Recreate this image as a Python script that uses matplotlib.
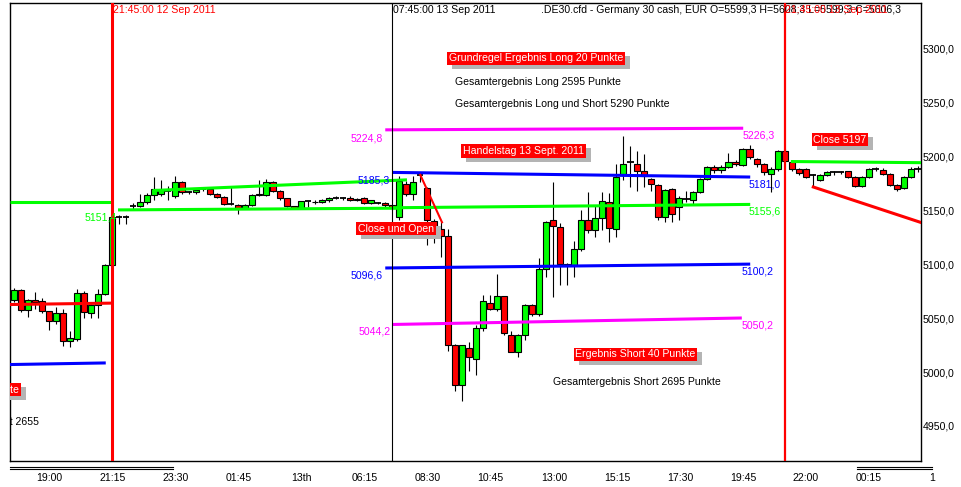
import matplotlib
matplotlib.use("Agg")
import matplotlib.pyplot as plt
import numpy as np
from matplotlib.ticker import FuncFormatter

plt.rcParams['font.family'] = ['Liberation Sans', 'DejaVu Sans']

# 15 minute bars of .DE30.cfd, first bar 18:15 on 12 Sep 2011
opens = [
    5066.7, 5076.6, 5057.4, 5067.3, 5066.0, 5056.5, 5047.2, 5055.3, 5028.7, 5030.5,
    5073.8, 5054.9, 5062.0, 5072.9, 5099.0, 5144.0, 5144.0, 5154.5, 5154.3, 5157.7,
    5164.5, 5165.0, 5167.6, 5163.0, 5176.2, 5166.7, 5166.7, 5170.0, 5170.0, 5165.5,
    5162.9, 5156.2, 5155.3, 5152.5, 5155.3, 5164.5, 5164.5, 5176.2, 5168.0, 5161.8,
    5153.7, 5151.9, 5158.6, 5157.5, 5158.0, 5159.3, 5162.0, 5161.5, 5162.0, 5160.0,
    5161.8, 5156.8, 5157.0, 5157.0, 5154.6, 5143.8, 5175.0, 5165.5, 5183.0, 5171.0,
    5140.0, 5133.0, 5126.0, 5025.0, 4988.0, 5022.5, 5011.8, 5040.5, 5064.5, 5059.0,
    5070.6, 5034.0, 5018.8, 5034.0, 5062.0, 5053.7, 5095.4, 5140.7, 5135.0, 5100.0,
    5099.0, 5114.5, 5141.4, 5131.5, 5142.9, 5157.7, 5133.0, 5184.0, 5194.7, 5193.0,
    5187.0, 5179.4, 5173.8, 5143.8, 5170.0, 5153.0, 5160.8, 5159.3, 5167.0, 5179.4,
    5190.7, 5187.7, 5190.7, 5195.0, 5192.3, 5207.1, 5197.9, 5193.2, 5184.0, 5188.6,
    5205.6, 5194.7, 5188.6, 5188.6, 5183.3, 5178.4, 5183.3, 5185.5, 5185.5, 5186.4,
    5181.5, 5173.0, 5181.5, 5188.6, 5187.7, 5184.0, 5174.0, 5171.0, 5181.5, 5188.6,
]
highs = [
    5078.0, 5077.0, 5068.0, 5074.4, 5068.8, 5057.0, 5060.5, 5058.6, 5038.3, 5077.5,
    5075.3, 5063.0, 5077.5, 5100.0, 5145.4, 5145.4, 5145.4, 5156.8, 5165.5, 5166.0,
    5180.8, 5178.0, 5173.0, 5182.4, 5177.0, 5168.0, 5171.0, 5171.0, 5171.0, 5166.0,
    5163.0, 5171.6, 5156.0, 5156.0, 5165.0, 5178.0, 5179.4, 5177.0, 5169.0, 5162.0,
    5154.0, 5159.0, 5159.0, 5159.5, 5160.5, 5162.5, 5163.5, 5162.5, 5163.0, 5161.5,
    5162.5, 5160.0, 5158.0, 5158.0, 5155.0, 5182.0, 5177.0, 5182.4, 5185.0, 5172.0,
    5142.0, 5139.0, 5133.0, 5026.0, 5025.5, 5028.0, 5043.8, 5072.0, 5072.0, 5090.7,
    5071.0, 5038.0, 5035.0, 5063.0, 5063.0, 5106.2, 5140.5, 5176.2, 5138.0, 5101.0,
    5122.0, 5150.0, 5167.0, 5154.0, 5167.0, 5166.0, 5193.2, 5219.4, 5210.0, 5205.6,
    5202.5, 5180.0, 5175.0, 5170.0, 5171.0, 5163.0, 5168.5, 5168.0, 5180.0, 5191.0,
    5192.0, 5192.0, 5203.4, 5197.0, 5208.0, 5211.0, 5199.0, 5194.0, 5190.0, 5206.0,
    5207.0, 5195.5, 5189.0, 5189.0, 5184.0, 5184.0, 5186.5, 5187.0, 5186.5, 5187.0,
    5182.0, 5182.0, 5189.0, 5190.0, 5189.0, 5185.0, 5175.0, 5182.0, 5190.7, 5191.0,
]
lows = [
    5065.0, 5055.8, 5051.2, 5059.0, 5055.0, 5039.5, 5045.0, 5024.0, 5023.4, 5028.7,
    5050.0, 5050.0, 5050.0, 5072.0, 5098.0, 5137.0, 5137.0, 5151.6, 5153.0, 5156.0,
    5160.0, 5163.0, 5160.0, 5162.0, 5165.0, 5165.0, 5165.0, 5168.0, 5164.0, 5162.0,
    5155.0, 5155.0, 5147.0, 5151.0, 5154.0, 5163.0, 5163.0, 5167.0, 5160.0, 5153.0,
    5151.0, 5151.0, 5153.0, 5156.0, 5157.0, 5158.0, 5161.0, 5160.0, 5159.0, 5159.0,
    5156.0, 5156.0, 5156.0, 5153.0, 5150.0, 5140.7, 5163.0, 5160.0, 5176.0, 5117.6,
    5120.0, 5107.0, 5020.0, 4982.7, 4973.0, 5001.0, 4997.0, 5038.0, 5058.0, 5057.0,
    5034.0, 5018.8, 5014.0, 5030.0, 5052.0, 5052.0, 5088.0, 5069.7, 5080.6, 5081.0,
    5088.0, 5112.0, 5129.0, 5125.0, 5131.5, 5120.7, 5125.0, 5178.0, 5171.6, 5168.5,
    5171.6, 5168.5, 5140.7, 5139.2, 5139.0, 5140.7, 5157.7, 5155.0, 5166.0, 5178.0,
    5185.0, 5185.0, 5189.0, 5191.0, 5191.0, 5198.0, 5190.0, 5183.0, 5167.0, 5187.0,
    5195.0, 5187.0, 5183.0, 5180.0, 5172.2, 5177.0, 5182.0, 5183.0, 5184.0, 5180.0,
    5172.0, 5172.0, 5180.0, 5187.0, 5183.0, 5173.0, 5168.0, 5170.0, 5180.0, 5186.0,
]
closes = [
    5076.6, 5057.4, 5067.3, 5065.0, 5056.5, 5047.2, 5055.3, 5028.7, 5031.2, 5073.8,
    5055.8, 5062.4, 5072.9, 5099.0, 5143.8, 5144.0, 5144.0, 5154.5, 5157.7, 5164.5,
    5170.0, 5169.0, 5167.6, 5176.2, 5167.0, 5166.7, 5169.0, 5170.0, 5165.5, 5162.9,
    5156.2, 5156.2, 5152.5, 5155.3, 5164.5, 5165.5, 5176.2, 5168.0, 5161.8, 5153.7,
    5151.9, 5158.6, 5158.6, 5158.3, 5159.7, 5161.8, 5162.0, 5161.5, 5160.0, 5161.0,
    5156.8, 5159.3, 5157.0, 5154.6, 5152.4, 5177.5, 5165.5, 5176.2, 5183.0, 5140.7,
    5133.0, 5126.0, 5025.0, 4988.0, 5025.0, 5014.2, 5040.5, 5065.7, 5059.0, 5070.6,
    5036.4, 5018.8, 5034.0, 5062.0, 5053.7, 5095.4, 5139.2, 5136.0, 5100.0, 5099.0,
    5114.5, 5140.7, 5131.5, 5142.9, 5158.6, 5134.0, 5180.8, 5193.0, 5194.7, 5186.4,
    5182.4, 5174.7, 5143.8, 5169.2, 5147.0, 5161.8, 5160.8, 5167.0, 5179.4, 5190.7,
    5187.7, 5190.7, 5194.7, 5193.0, 5207.1, 5199.4, 5193.2, 5185.5, 5188.6, 5204.9,
    5196.3, 5188.6, 5184.5, 5181.5, 5183.3, 5183.3, 5185.5, 5185.5, 5185.5, 5181.5,
    5173.0, 5181.5, 5188.6, 5188.6, 5184.0, 5174.0, 5170.1, 5181.5, 5188.6, 5188.6,
]

# time axis: labels every 9 bars
tick_bars = [3, 12, 21, 30, 39, 48, 57, 66, 75, 84, 93, 102, 111, 120]
tick_labels = ['19:00', '21:15', '23:30', '01:45', '13th', '06:15', '08:30',
               '10:45', '13:00', '15:15', '17:30', '19:45', '22:00', '00:15']
last_label = (129, '1')

# drawn objects: (bar from, bar to, price from, price to, colour)
levels = [
    (-0.6, 14.0, 5158.0, 5158.0, '#00ff00'),
    (-0.6, 14.0, 5062.7, 5064.0, '#ff0000'),
    (-0.6, 13.1, 5007.0, 5008.5, '#0000ff'),
    (14.85, 54.7, 5150.5, 5152.1, '#00ff00'),
    (19.8, 56.1, 5168.5, 5178.4, '#00ff00'),
    (54.0, 105.1, 5185.3, 5181.0, '#0000ff'),
    (54.0, 105.1, 5152.5, 5155.6, '#00ff00'),
    (53.0, 105.1, 5096.6, 5100.2, '#0000ff'),
    (53.0, 104.1, 5224.8, 5226.3, '#ff00ff'),
    (54.1, 103.9, 5044.2, 5050.2, '#ff00ff'),
    (110.9, 130.0, 5195.4, 5194.3, '#00ff00'),
    (113.9, 130.0, 5172.2, 5137.7, '#ff0000'),
]
connector = ([58.0, 61.1], [5183.0, 5139.0])

# level values written at line ends: (bar, price, text, colour, align)
level_labels = [
    (14.66, 5143.8, '5151,4', '#00ff00', 'right'),
    (53.7, 5177.8, '5185,3', '#0000ff', 'right'),
    (52.7, 5089.8, '5096,6', '#0000ff', 'right'),
    (52.7, 5217.0, '5224,8', '#ff00ff', 'right'),
    (53.8, 5037.3, '5044,2', '#ff00ff', 'right'),
    (104.0, 5219.4, '5226,3', '#ff00ff', 'left'),
    (104.8, 5174.0, '5181,0', '#0000ff', 'left'),
    (104.8, 5149.4, '5155,6', '#00ff00', 'left'),
    (103.9, 5092.9, '5100,2', '#0000ff', 'left'),
    (103.9, 5043.5, '5050,2', '#ff00ff', 'left'),
]

boxed_notes = [
    (62.1, 5291.2, 'Grundregel Ergebnis Long 20 Punkte', 'left'),
    (64.1, 5205.1, 'Handelstag 13 Sept. 2011', 'left'),
    (49.1, 5132.9, 'Close und Open', 'left'),
    (80.1, 5016.4, 'Ergebnis Short 40 Punkte', 'left'),
    (114.1, 5215.7, 'Close 5197', 'left'),
    (0.75, 4983.6, 'Punkte', 'right'),
]
plain_notes = [
    (62.9, 5269.3, 'Gesamtergebnis Long 2595 Punkte', 'left'),
    (62.9, 5249.0, 'Gesamtergebnis Long und Short 5290 Punkte', 'left'),
    (77.0, 4990.7, 'Gesamtergebnis Short 2695 Punkte', 'left'),
    (3.6, 4954.0, 'Gesamtergebnis Short 2655', 'right'),
]
header = [
    (14.1, '21:45:00 12 Sep 2011', '#ff0000'),
    (54.1, '07:45:00 13 Sep 2011', 'black'),
    (75.3, '.DE30.cfd - Germany 30 cash, EUR O=5599,3 H=5608,3 L=5599,3 C=5606,3', 'black'),
    (110.1, '21:45:00 13 Sep 2011', '#ff0000'),
]

FS = 7.6

fig = plt.figure(figsize=(9.61, 4.87), dpi=100)
ax = fig.add_axes([10 / 961, 26 / 487, 910.5 / 961, 458 / 487])

o = np.array(opens)
h = np.array(highs)
l = np.array(lows)
c = np.array(closes)
x = np.arange(len(o))
up = c > o
down = c < o
flat = c == o

ax.vlines(x, l, h, color='black', lw=0.8, zorder=2)
ax.bar(x[up], (c - o)[up], bottom=o[up], width=0.86, color='#00ff00',
       edgecolor='black', linewidth=0.8, zorder=3)
ax.bar(x[down], (c - o)[down], bottom=o[down], width=0.86, color='#ff0000',
       edgecolor='black', linewidth=0.8, zorder=3)
ax.hlines(c[flat], x[flat] - 0.45, x[flat] + 0.45, color='black', lw=1.3, zorder=3)

for x0, x1, y0, y1, col in levels:
    ax.plot([x0, x1], [y0, y1], color=col, lw=2.2, solid_capstyle='butt', zorder=4)
ax.plot(connector[0], connector[1], color='#ff0000', lw=1.5, zorder=4)

ax.axvline(14, color='#ff0000', lw=2.2, zorder=5)
ax.axvline(54, color='black', lw=0.8, zorder=5)
ax.axvline(110, color='#ff0000', lw=1.6, zorder=5)

for bx, py, txt, col, ha in level_labels:
    ax.text(bx, py, txt, color=col, ha=ha, va='center', fontsize=FS, zorder=6)

for bx, py, txt, ha in boxed_notes:
    ax.annotate(txt, (bx, py), xytext=(5, -4), textcoords='offset pixels',
                ha=ha, va='center', color='#b4b4b4', fontsize=FS,
                bbox=dict(boxstyle='square,pad=0.15', fc='#b4b4b4', ec='none'),
                annotation_clip=False, clip_on=True, zorder=7)
    ax.text(bx, py, txt, ha=ha, va='center', color='white', fontsize=FS,
            bbox=dict(boxstyle='square,pad=0.15', fc='#ff0000', ec='none'),
            clip_on=True, zorder=8)

for bx, py, txt, ha in plain_notes:
    ax.text(bx, py, txt, ha=ha, va='center', color='black', fontsize=FS,
            clip_on=True, zorder=8)

for bx, txt, col in header:
    ax.text(bx, 5336, txt, ha='left', va='center', color=col, fontsize=FS, zorder=8)

ax.set_xlim(-0.571, 129.41)
ax.set_ylim(4917.5, 5342.5)

ax.set_yticks(np.arange(4950, 5301, 50))
ax.yaxis.set_major_formatter(FuncFormatter(lambda v, p: f'{v:.1f}'.replace('.', ',')))
ax.tick_params(axis='y', left=False, right=True, labelleft=False, labelright=True,
               length=0, pad=1.5, labelsize=FS)

ax.set_xticks(np.array(tick_bars) + 2.07)
ax.set_xticklabels(tick_labels)
ax.tick_params(axis='x', length=0, pad=8.5, labelsize=FS)
ax.text(last_label[0] + 2.07, -17 / 458, last_label[1], transform=ax.get_xaxis_transform(),
        ha='center', va='center', fontsize=FS)

# date separators under the time axis
for yoff in (-5.7 / 458, -8.3 / 458):
    for x0, x1 in [(-0.571, 22.7), (120.3, 131.05)]:
        ax.plot([x0, x1], [yoff, yoff], transform=ax.get_xaxis_transform(),
                color='black', lw=0.8, clip_on=False)

for s in ax.spines.values():
    s.set_linewidth(1.0)

fig.savefig('out.png', dpi=100)
